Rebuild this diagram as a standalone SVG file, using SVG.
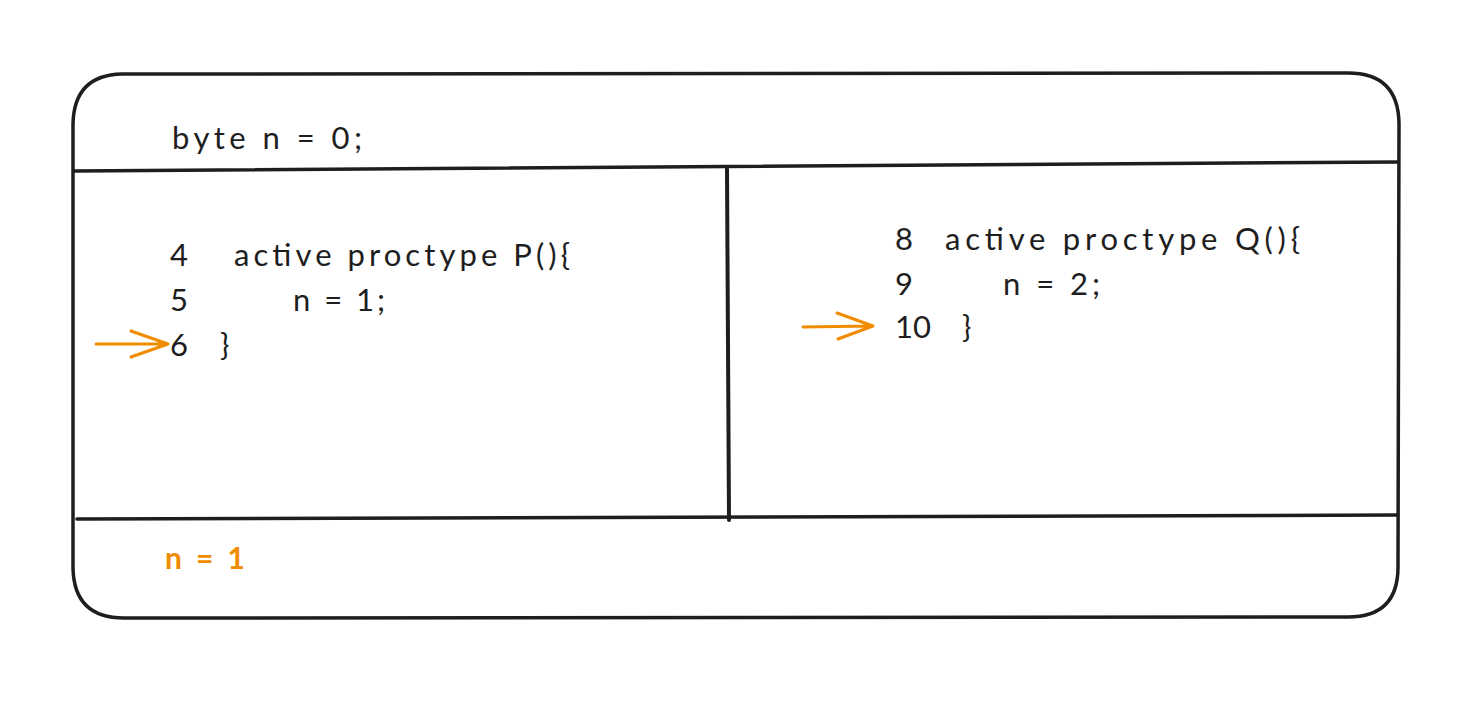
<svg xmlns="http://www.w3.org/2000/svg" width="1484" height="708" viewBox="0 0 1484 708">
<defs>
<style>
.ln{fill:none;stroke:#1e1e1e;stroke-width:3.5;stroke-linecap:round;stroke-linejoin:round}
.ar{fill:none;stroke:#f08c00;stroke-width:3;stroke-linecap:round;stroke-linejoin:round}
.t{font-family:"Lato","Liberation Sans",sans-serif;font-size:31px;fill:#1e1e1e}
.o{font-family:"Lato","Liberation Sans",sans-serif;font-size:30px;font-weight:bold;fill:#f08c00}
</style>
</defs>
<rect width="1484" height="708" fill="#ffffff"/>
<g id="frame">
<path class="ln" d="M122 74 L1348 73 Q1398 73 1399 123 L1398 567 Q1398 617 1348 617 L124 618 Q74 618 73 568 L73 124 Q74 75 122 74 Z"/>
</g>
<g id="dividers">
<path class="ln" d="M74 171 L1398 162"/>
<path class="ln" d="M727 169 L729 520" style="stroke-width:4"/>
<path class="ln" d="M77 519 L1397 515"/>
</g>
<g id="header">
<text class="t" x="172" y="149" textLength="190" lengthAdjust="spacing">byte n = 0;</text>
</g>
<g id="procP">
<text class="t" x="170" y="266">4</text>
<text class="t" x="234" y="266" textLength="336" lengthAdjust="spacing">active proctype P(){</text>
<text class="t" x="170" y="311">5</text>
<text class="t" x="293" y="311" textLength="92" lengthAdjust="spacing">n = 1;</text>
<text class="t" x="170" y="356">6</text>
<text class="t" x="220" y="356">}</text>
</g>
<g id="procQ">
<text class="t" x="895" y="250">8</text>
<text class="t" x="945" y="250" textLength="355" lengthAdjust="spacing">active proctype Q(){</text>
<text class="t" x="895" y="295">9</text>
<text class="t" x="1003" y="295" textLength="97" lengthAdjust="spacing">n = 2;</text>
<text class="t" x="895" y="338">10</text>
<text class="t" x="962" y="338">}</text>
</g>
<g id="connectors">
<path class="ar" d="M96 344 L168 344 M168 344 L131 331 M168 344 L131 357"/>
<path class="ar" d="M803 327 L873 326 M873 326 L837 313 M873 326 L838 339"/>
</g>
<g id="state">
<text class="o" x="165" y="569" textLength="80" lengthAdjust="spacing">n = 1</text>
</g>
</svg>
